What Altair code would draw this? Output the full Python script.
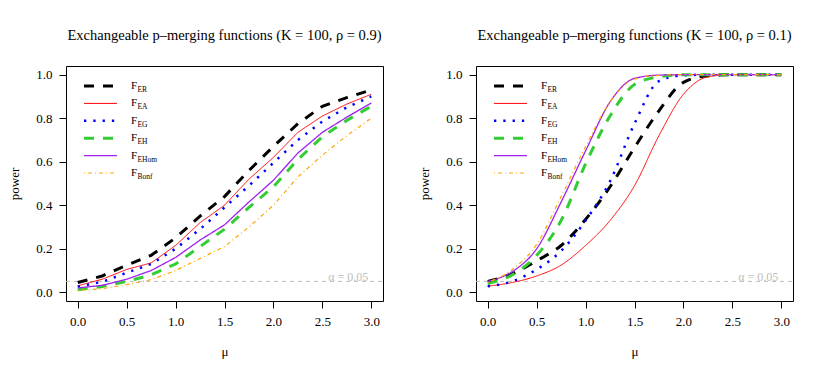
import altair as alt
import pandas as pd

MU = [0, 0.25, 0.5, 0.75, 1.0, 1.25, 1.5, 1.75, 2.0, 2.25, 2.5, 2.75, 3.0]
SERIES = ["F_ER", "F_EA", "F_EG", "F_EH", "F_EHom", "F_Bonf"]
SUBS = ["ER", "EA", "EG", "EH", "EHom", "Bonf"]

# rho = 0.9
L_ER = [0.045, 0.075, 0.125, 0.17, 0.25, 0.35, 0.44, 0.56, 0.67, 0.775, 0.855, 0.895, 0.93]
L_EA = [0.03, 0.06, 0.105, 0.135, 0.215, 0.32, 0.40, 0.52, 0.62, 0.735, 0.81, 0.865, 0.91]
L_EG = [0.026, 0.048, 0.09, 0.13, 0.20, 0.29, 0.39, 0.49, 0.595, 0.70, 0.785, 0.85, 0.90]
L_EH = [0.012, 0.027, 0.05, 0.08, 0.13, 0.21, 0.29, 0.39, 0.485, 0.61, 0.715, 0.79, 0.855]
L_EHOM = [0.02, 0.032, 0.06, 0.10, 0.16, 0.24, 0.31, 0.415, 0.515, 0.64, 0.735, 0.805, 0.87]
L_BONF = [0.008, 0.017, 0.035, 0.058, 0.10, 0.155, 0.21, 0.30, 0.40, 0.53, 0.63, 0.72, 0.80]

# rho = 0.1
R_ER = [0.05, 0.085, 0.145, 0.215, 0.335, 0.485, 0.665, 0.834, 0.965, 0.995, 1.0, 1.0, 1.0]
R_EA = [0.028, 0.045, 0.075, 0.125, 0.215, 0.33, 0.49, 0.72, 0.91, 0.99, 1.0, 1.0, 1.0]
R_EG = [0.028, 0.05, 0.105, 0.19, 0.33, 0.51, 0.775, 0.97, 0.997, 1.0, 1.0, 1.0, 1.0]
R_EH = [0.04, 0.08, 0.17, 0.33, 0.59, 0.81, 0.955, 0.99, 1.0, 1.0, 1.0, 1.0, 1.0]
R_EHOM = [0.05, 0.095, 0.20, 0.415, 0.65, 0.875, 0.983, 0.998, 1.0, 1.0, 1.0, 1.0, 1.0]
R_BONF = [0.045, 0.105, 0.22, 0.44, 0.67, 0.875, 0.98, 0.997, 1.0, 1.0, 1.0, 1.0, 1.0]

ALPHA = 0.05
X_TICKS = [0, 0.5, 1.0, 1.5, 2.0, 2.5, 3.0]
Y_TICKS = [0, 0.2, 0.4, 0.6, 0.8, 1.0]

COLORS = ["#000000", "#FF0000", "#0000FF", "#32CD32", "#A020F0", "#FFA500"]
DASHES = [[10, 9], [1, 0], [2.3, 7], [10, 9], [1, 0], [1, 3, 4, 3]]
WIDTHS = [3, 1, 2.5, 3, 1.3, 1.2]

FONT = "Liberation Serif, Times New Roman, Times, serif"
W, H = 317, 235

color_s = alt.Scale(domain=SERIES, range=COLORS)
dash_s = alt.Scale(domain=SERIES, range=DASHES)
width_s = alt.Scale(type="ordinal", domain=SERIES, range=WIDTHS)


def panel(values, rho, interp):
    rows = []
    for name, vals in zip(SERIES, values):
        for m, v in zip(MU, vals):
            rows.append({"series": name, "mu": m, "power": v})
    df = pd.DataFrame(rows)

    xs = alt.Scale(domain=[-0.12, 3.12], nice=False, zero=False)
    ys = alt.Scale(domain=[-0.04, 1.04], nice=False, zero=False)
    x_axis = alt.Axis(values=X_TICKS, format=".1f", title="μ", tickSize=7,
                      labelPadding=7, titlePadding=17, domain=False, grid=False)
    y_axis = alt.Axis(values=Y_TICKS, format=".1f", title="power", tickSize=7,
                      labelPadding=7, titlePadding=14, domain=False, grid=False)

    lines = alt.Chart(df).mark_line(interpolate=interp).encode(
        x=alt.X("mu:Q", scale=xs, axis=x_axis),
        y=alt.Y("power:Q", scale=ys, axis=y_axis),
        color=alt.Color("series:N", scale=color_s, legend=None),
        strokeDash=alt.StrokeDash("series:N", scale=dash_s, legend=None),
        strokeWidth=alt.StrokeWidth("series:N", scale=width_s, legend=None),
    )

    adf = pd.DataFrame({"mu": [max(MU)], "power": [ALPHA], "label": ["α = 0.05"]})
    arule = alt.Chart(adf).mark_rule(color="#BEBEBE", strokeDash=[4, 4], strokeWidth=1).encode(
        y=alt.Y("power:Q", scale=ys), x=alt.value(0), x2=alt.value(W)
    )
    atext = alt.Chart(adf).mark_text(
        align="right", baseline="alphabetic", dx=-3, dy=0, font=FONT, fontSize=12, color="#BEBEBE"
    ).encode(x=alt.X("mu:Q", scale=xs), y=alt.Y("power:Q", scale=ys), text="label:N")

    main = alt.layer(arule, lines, atext)

    ldf = pd.DataFrame({"series": SERIES, "row": list(range(len(SERIES))), "sub": SUBS})
    ly = alt.Y("row:O", scale=alt.Scale(type="point", domain=list(range(len(SERIES))),
                                        range=[20, 107], padding=0), axis=None)
    lrule = alt.Chart(ldf).mark_rule().encode(
        x=alt.value(18), x2=alt.value(51), y=ly,
        color=alt.Color("series:N", scale=color_s, legend=None),
        strokeDash=alt.StrokeDash("series:N", scale=dash_s, legend=None),
        strokeWidth=alt.StrokeWidth("series:N", scale=width_s, legend=None),
    )
    lf = alt.Chart(ldf).mark_text(text="F", align="left", baseline="middle", font=FONT,
                                  fontSize=11, color="black").encode(x=alt.value(65), y=ly)
    ls = alt.Chart(ldf).mark_text(align="left", baseline="middle", font=FONT, fontSize=7.5,
                                  dy=4, color="black").encode(x=alt.value(71.5), y=ly, text="sub:N")
    legend = alt.layer(lrule, lf, ls)

    return alt.layer(main, legend).resolve_scale(y="independent").properties(
        width=W, height=H,
        title=alt.TitleParams(
            text=f"Exchangeable p–merging functions (K = 100, ρ = {rho})",
            font=FONT, fontSize=14.5, fontWeight="normal", color="black",
            anchor="middle", frame="group", offset=23,
        ),
    )


left = panel([L_ER, L_EA, L_EG, L_EH, L_EHOM, L_BONF], "0.9", "linear")
right = panel([R_ER, R_EA, R_EG, R_EH, R_EHOM, R_BONF], "0.1", "monotone")

chart = alt.hconcat(left, right, spacing=34).properties(
    padding={"left": 0, "top": 19, "right": 5, "bottom": 5},
    background="white",
).configure_view(stroke="black", strokeWidth=1).configure_axis(
    labelFont=FONT, labelFontSize=13, labelColor="black", titleFont=FONT,
    titleFontSize=13, titleFontWeight="normal", titleColor="black",
    tickColor="black", tickWidth=1,
)

chart.save("out.html", embed_options={"renderer": "svg", "actions": False})
